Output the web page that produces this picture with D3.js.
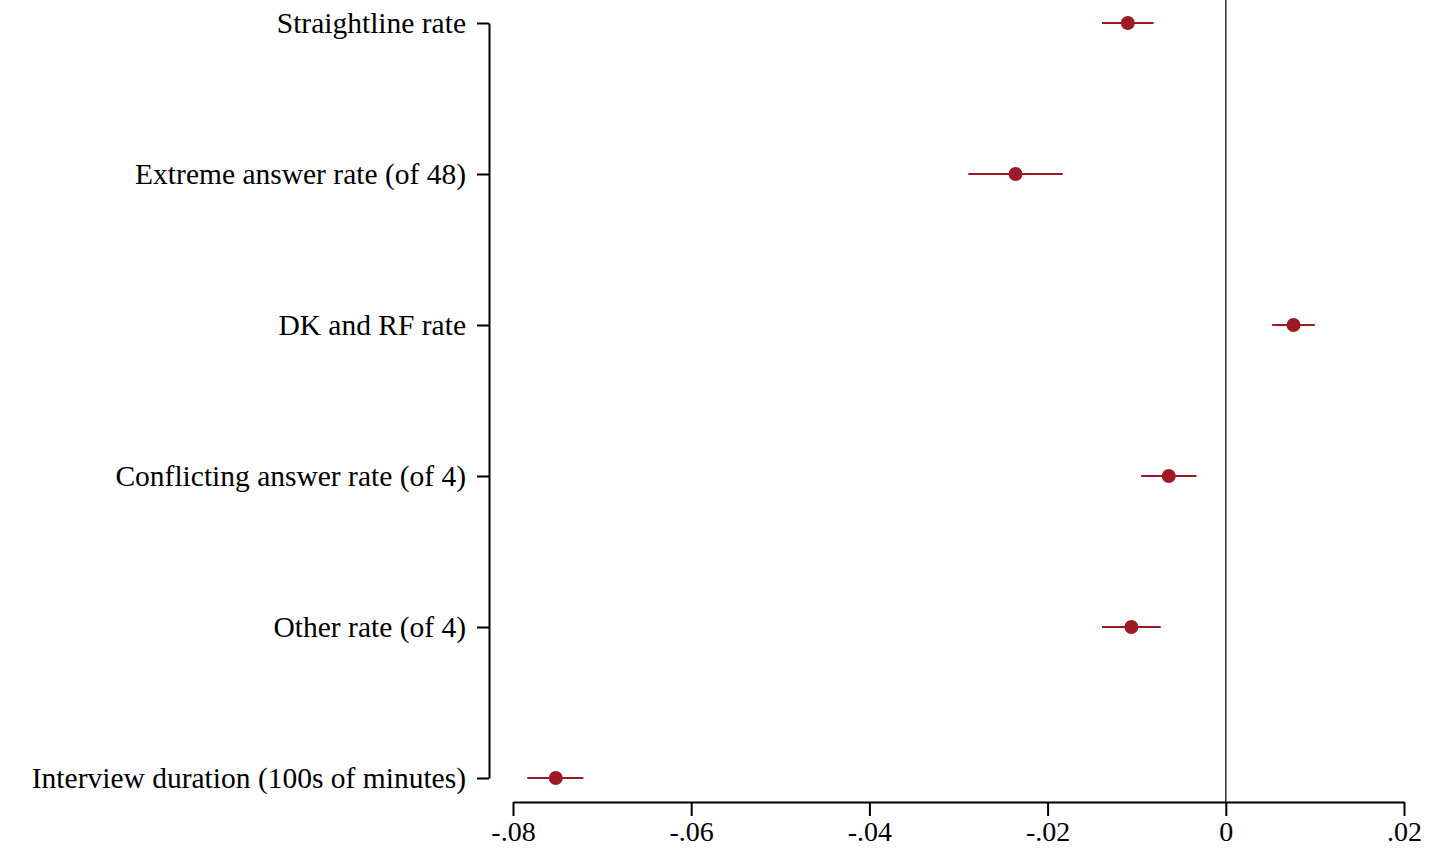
<!DOCTYPE html>
<html>
<head>
<meta charset="utf-8">
<script src="https://cdn.jsdelivr.net/npm/d3@7"></script>
<style>
  body { margin: 0; background: #fff; }
  text { font-family: "Liberation Serif", "DejaVu Serif", serif; fill: #000; }
</style>
</head>
<body>
<div class="container"></div>
<script>
var categories = [
	"Straightline rate",
	"Extreme answer rate (of 48)",
	"DK and RF rate",
	"Conflicting answer rate (of 4)",
	"Other rate (of 4)",
	"Interview duration (100s of minutes)"
];
var estimates = [-0.0110, -0.0236, 0.0076, -0.0064, -0.0106, -0.0752];
var lowerCI = [-0.0139, -0.0289, 0.0052, -0.0095, -0.0139, -0.0784];
var upperCI = [-0.0081, -0.0183, 0.0100, -0.0033, -0.0073, -0.0721];
var xTicks = [-0.08, -0.06, -0.04, -0.02, 0, 0.02];
var xTickLabels = ["-.08", "-.06", "-.04", "-.02", "0", ".02"];

const WIDTH = 1448;
const HEIGHT = 851;
const COLOR = "#9b1a24";

var translate = function(x, y){
	return "translate("+x+","+y+")";
};

var svg = d3.select('.container').append('svg')
	.attr('width', WIDTH)
	.attr('height', HEIGHT);

var xScale = d3.scaleLinear()
	.domain([-0.08, 0.02])
	.range([513, 1404]);

var yScale = d3.scalePoint()
	.domain(categories)
	.range([23, 778]);

var xAxisY = 802;
var yAxisX = 489;

// zero reference line
svg.append('line')
	.attr('x1', xScale(0)).attr('x2', xScale(0))
	.attr('y1', 0).attr('y2', xAxisY)
	.attr('stroke', '#222')
	.attr('stroke-width', 1.4);

var xAxis = d3.axisBottom(xScale)
	.tickValues(xTicks)
	.tickFormat(function(d, i){ return xTickLabels[i]; })
	.tickSize(14)
	.tickSizeOuter(0)
	.tickPadding(5);

var gx = svg.append('g')
	.attr('transform', translate(0, xAxisY))
	.call(xAxis);
gx.select('.domain').attr('stroke', '#000').attr('stroke-width', 2);
gx.selectAll('.tick line').attr('stroke', '#000').attr('stroke-width', 2);
gx.selectAll('.tick text').attr('font-size', 28).attr('font-family', '"Liberation Serif", serif');

var yAxis = d3.axisLeft(yScale)
	.tickSize(12)
	.tickSizeOuter(0)
	.tickPadding(11);

var gy = svg.append('g')
	.attr('transform', translate(yAxisX, 0))
	.call(yAxis);
gy.select('.domain').attr('stroke', '#000').attr('stroke-width', 2);
gy.selectAll('.tick line').attr('stroke', '#000').attr('stroke-width', 2);
gy.selectAll('.tick text').attr('font-size', 29.5).attr('font-family', '"Liberation Serif", serif');

var rows = categories.map(function(c, i){
	return { cat: c, est: estimates[i], lo: lowerCI[i], hi: upperCI[i] };
});

svg.selectAll('.ci').data(rows)
	.enter().append('line')
	.classed('ci', true)
	.attr('x1', function(d){ return xScale(d.lo); })
	.attr('x2', function(d){ return xScale(d.hi); })
	.attr('y1', function(d){ return yScale(d.cat); })
	.attr('y2', function(d){ return yScale(d.cat); })
	.attr('stroke', COLOR)
	.attr('stroke-width', 2);

svg.selectAll('.pt').data(rows)
	.enter().append('circle')
	.classed('pt', true)
	.attr('cx', function(d){ return xScale(d.est); })
	.attr('cy', function(d){ return yScale(d.cat); })
	.attr('r', 7)
	.attr('fill', COLOR);
</script>
</body>
</html>
